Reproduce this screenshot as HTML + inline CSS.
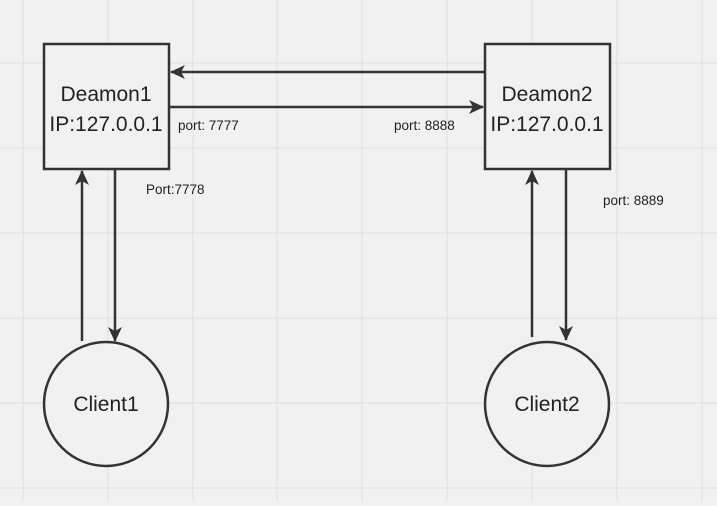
<!DOCTYPE html>
<html><head><style>
html,body{margin:0;padding:0;}
body{width:717px;height:501px;overflow:hidden;background:#f1f1f1;}
text{font-family:"Liberation Sans",sans-serif;fill:#222;}
</style></head><body>
<svg width="717" height="501" xmlns="http://www.w3.org/2000/svg">
<defs>
<marker id="a" markerWidth="16" markerHeight="16" refX="14" refY="8" orient="auto" markerUnits="userSpaceOnUse">
<path d="M0,1 L15,8 L0,15 L4,8 Z" fill="#333"/>
</marker>
</defs>
<g stroke="#e0e0e0" stroke-width="1">
<line x1="23" y1="0" x2="23" y2="501"/><line x1="108" y1="0" x2="108" y2="501"/>
<line x1="193" y1="0" x2="193" y2="501"/><line x1="277" y1="0" x2="277" y2="501"/>
<line x1="362" y1="0" x2="362" y2="501"/><line x1="447" y1="0" x2="447" y2="501"/>
<line x1="532" y1="0" x2="532" y2="501"/><line x1="617" y1="0" x2="617" y2="501"/>
<line x1="702" y1="0" x2="702" y2="501"/>
<line x1="0" y1="63" x2="717" y2="63"/><line x1="0" y1="148" x2="717" y2="148"/>
<line x1="0" y1="233" x2="717" y2="233"/><line x1="0" y1="318" x2="717" y2="318"/>
<line x1="0" y1="403" x2="717" y2="403"/><line x1="0" y1="488" x2="717" y2="488"/>
</g>
<g fill="#f1f1f1" stroke="#333" stroke-width="2.5">
<rect x="44" y="44" width="125" height="125"/>
<rect x="485" y="44" width="125" height="125"/>
<circle cx="106" cy="404" r="62"/>
<circle cx="547" cy="404" r="62"/>
</g>
<g stroke="#333" stroke-width="2.5" fill="none">
<line x1="485" y1="72" x2="171" y2="72" marker-end="url(#a)"/>
<line x1="169" y1="107" x2="483" y2="107" marker-end="url(#a)"/>
<line x1="82" y1="341" x2="82" y2="171" marker-end="url(#a)"/>
<line x1="115" y1="169" x2="115" y2="341" marker-end="url(#a)"/>
<line x1="532" y1="337" x2="532" y2="171" marker-end="url(#a)"/>
<line x1="566" y1="169" x2="566" y2="340" marker-end="url(#a)"/>
</g>
<g font-size="21" text-anchor="middle">
<text x="106" y="101">Deamon1</text>
<text x="106" y="131">IP:127.0.0.1</text>
<text x="547" y="101">Deamon2</text>
<text x="547" y="131">IP:127.0.0.1</text>
<text x="106" y="411">Client1</text>
<text x="547" y="411">Client2</text>
</g>
<g font-size="13.5">
<text x="178" y="130">port: 7777</text>
<text x="394" y="130">port: 8888</text>
<text x="146" y="194">Port:7778</text>
<text x="603" y="205">port: 8889</text>
</g>
</svg>
</body></html>
